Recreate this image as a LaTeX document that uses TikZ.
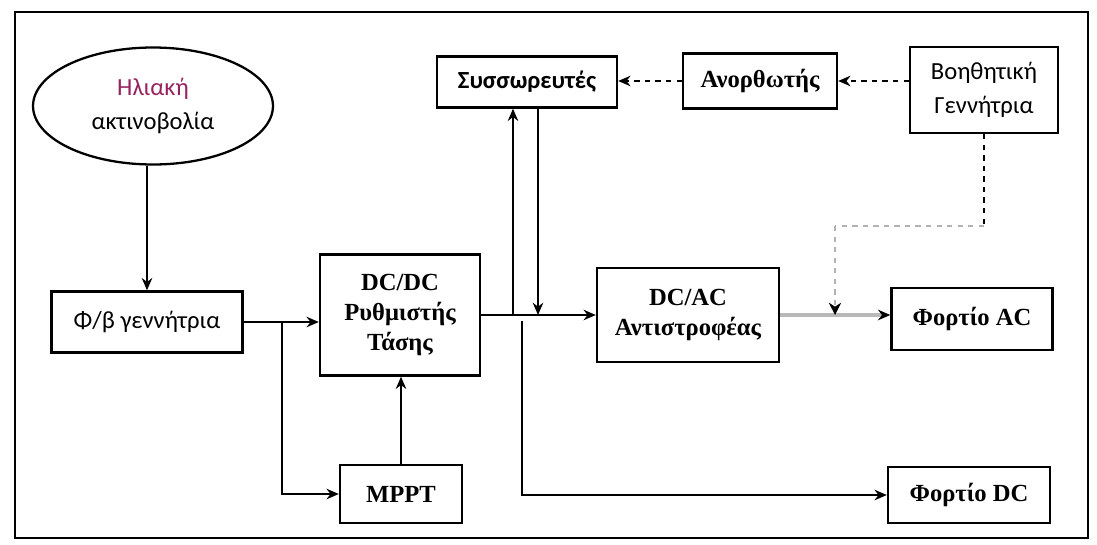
\documentclass[tikz,border=0pt]{standalone}
\usepackage{fontspec}
\setmainfont{Liberation Serif}
\newfontfamily\grsans{Carlito}
\usetikzlibrary{shapes.geometric, arrows.meta}
\definecolor{sunred}{RGB}{150,35,95}

\begin{document}
\begin{tikzpicture}[
        x=0.02cm, y=-0.02cm,
        box/.style={rectangle, draw, line width=1.4pt, inner sep=0pt, align=center,
            font=\fontsize{14}{17}\selectfont\bfseries},
        sbox/.style={box, font=\grsans\fontsize{14}{19}\selectfont},
        conn/.style={-{Stealth[length=7pt, width=6pt]}, thick},
        dconn/.style={conn, dashed},
        acline/.style={-{Stealth[length=7pt, width=6pt, color=black]}, line width=2.6pt, gray!55}
    ]
    \useasboundingbox (0,0) rectangle (1097,544);
    \draw[line width=1.6pt] (15,12) rectangle (1088,538);

    % Sources
    \node[ellipse, draw, line width=1.3pt, minimum width=4.8cm, minimum height=2.34cm,
        align=center, font=\grsans\fontsize{14}{19}\selectfont] (sun) at (153,106)
        {{\color{sunred}Ηλιακή}\\ακτινοβολία};
    \node[sbox, minimum width=3.82cm, minimum height=1.22cm] (pv) at (147,322) {Φ/β γεννήτρια};
    \node[box, minimum width=3.2cm, minimum height=2.42cm] (dcdc) at (400,315) {DC/DC\\Ρυθμιστής\\Τάσης};
    \node[box, minimum width=2.44cm, minimum height=1.16cm] (mppt) at (401,494) {MPPT};

    % Storage and backup
    \node[sbox, font=\grsans\fontsize{14}{19}\selectfont\bfseries, minimum width=3.6cm, minimum height=1.02cm] (bat) at (527,82) {Συσσωρευτές};
    \node[box, minimum width=3.08cm, minimum height=1.1cm] (rect) at (760,81) {Ανορθωτής};
    \node[sbox, minimum width=2.96cm, minimum height=1.72cm] (gen) at (984,90) {Βοηθητική\\Γεννήτρια};

    % Loads
    \node[box, minimum width=3.64cm, minimum height=1.88cm] (dcac) at (688,315) {DC/AC\\Αντιστροφέας};
    \node[box, minimum width=3.22cm, minimum height=1.24cm] (acload) at (972,319) {Φορτίο AC};
    \node[box, minimum width=3.24cm, minimum height=1.12cm] (dcload) at (969,495) {Φορτίο DC};

    % Junctions
    \coordinate (j1) at (282,322);
    \coordinate (up) at (513,315);
    \coordinate (dn) at (538,315);
    \coordinate (dj) at (522,321);
    \coordinate (g1) at (984,226);
    \coordinate (g2) at (835,226);

    \draw[conn] (pv.north |- sun.south) -- (pv.north);
    \draw[conn] (pv.east) -- (pv.east -| dcdc.west);
    \draw[conn] (j1) |- (mppt.west);
    \draw[conn] (mppt.north) -- (mppt.north |- dcdc.south);
    \draw[conn] (dcdc.east) -- (dcdc.east -| dcac.west);
    \draw[conn] (up) -- (up |- bat.south);
    \draw[conn] (dn |- bat.south) -- (dn);
    \draw[conn] (dj) |- (dcload.west);
    \draw[acline] (dcac.east) -- (dcac.east -| acload.west);

    \draw[dconn] (gen.west |- rect.east) -- (rect.east);
    \draw[dconn] (rect.west) -- (rect.west -| bat.east);
    \draw[thick, dashed] (gen.south) -- (g1);
    \draw[thick, gray!60, dash pattern=on 3pt off 3pt] (g1) -- (g2);
    \draw[-{Stealth[length=7pt, width=7pt, color=black]}, thick, gray!60, dash pattern=on 3pt off 3pt]
        (g2) -- (g2 |- dcac.east);

\end{tikzpicture}
\end{document}
